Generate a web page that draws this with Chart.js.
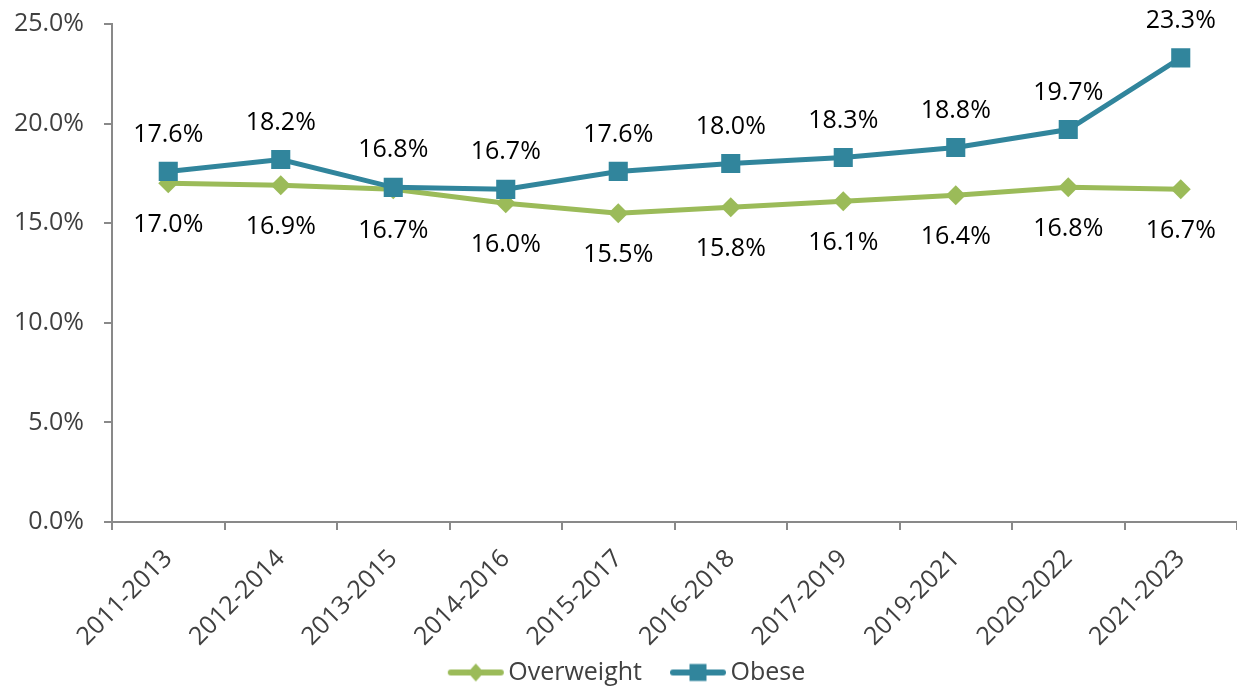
<!DOCTYPE html>
<html>
<head>
<meta charset="utf-8">
<script src="https://cdn.jsdelivr.net/npm/chart.js@4"></script>
<style>
  body { margin: 0; background: #fff; }
  #wrap { width: 1237px; height: 687px; position: relative; }
</style>
</head>
<body>
<div id="wrap"><canvas id="bmiChart"></canvas></div>
<script>
const PERIODS = ['2011-2013', '2012-2014', '2013-2015', '2014-2016', '2015-2017',
    '2016-2018', '2017-2019', '2019-2021', '2020-2022', '2021-2023']
const OVERWEIGHT = [17.0, 16.9, 16.7, 16.0, 15.5, 15.8, 16.1, 16.4, 16.8, 16.7]
const OBESE = [17.6, 18.2, 16.8, 16.7, 17.6, 18.0, 18.3, 18.8, 19.7, 23.3]
const Y_TICKS = [0, 5, 10, 15, 20, 25]

const GREEN = '#9BBB59'
const TEAL = '#31859C'
const AXIS = '#898989'
const TEXT = '#404040'
const FONT = "'Open Sans', 'Noto Sans', sans-serif"
const SIZE = 25

// line + marker swatch for the legend, drawn off-centre so it sits close to the text
function legendIcon(color, shape) {
    const c = document.createElement('canvas')
    c.width = 70
    c.height = 20
    const ctx = c.getContext('2d')
    ctx.strokeStyle = color
    ctx.lineWidth = 6
    ctx.lineCap = 'round'
    ctx.beginPath()
    ctx.moveTo(10, 10)
    ctx.lineTo(60, 10)
    ctx.stroke()
    ctx.fillStyle = color
    ctx.beginPath()
    if (shape === 'diamond') {
        ctx.moveTo(35, 1); ctx.lineTo(43, 10); ctx.lineTo(35, 19); ctx.lineTo(27, 10)
        ctx.closePath()
    } else {
        ctx.rect(26.5, 1.5, 17, 17)
    }
    ctx.fill()
    return c
}

const ICONS = [legendIcon(GREEN, 'diamond'), legendIcon(TEAL, 'square')]
const LABEL_OFFSETS = [42, -37]

const pointLabels = {
    id: 'pointLabels',
    afterLayout(chart) {
        // let the rotated tick labels run into the legend band instead of being clipped
        chart.scales.x.bottom = chart.height
        // nudge the legend row a little right, like the original
        chart.legend.left += 24
    },
    afterDatasetsDraw(chart) {
        const ctx = chart.ctx
        ctx.save()
        ctx.font = SIZE + 'px ' + FONT
        ctx.fillStyle = '#000'
        ctx.textAlign = 'center'
        ctx.textBaseline = 'middle'
        chart.data.datasets.forEach((ds, i) => {
            const meta = chart.getDatasetMeta(i)
            meta.data.forEach((pt, j) => {
                ctx.fillText(ds.data[j].toFixed(1) + '%', pt.x, pt.y + LABEL_OFFSETS[i])
            })
        })
        ctx.restore()
    }
}

const bmiChart = new Chart(document.getElementById('bmiChart'), {
    type: 'line',
    data: {
        labels: PERIODS,
        datasets: [
            {
                label: 'Overweight',
                data: OVERWEIGHT,
                borderColor: GREEN,
                backgroundColor: GREEN,
                borderWidth: 5,
                pointStyle: 'rectRot',
                pointRadius: 10,
                pointHoverRadius: 10,
                pointBorderWidth: 0,
                order: 1,
                tension: 0
            },
            {
                label: 'Obese',
                data: OBESE,
                borderColor: TEAL,
                backgroundColor: TEAL,
                borderWidth: 5,
                pointStyle: 'rect',
                pointRadius: 13.5,
                pointHoverRadius: 13.5,
                pointBorderWidth: 0,
                order: 0,
                tension: 0
            }
        ]
    },
    options: {
        responsive: true,
        maintainAspectRatio: false,
        animation: false,
        layout: { autoPadding: false, padding: { top: 24, right: 0, left: 0, bottom: -8 } },
        scales: {
            x: {
                offset: true,
                afterFit: scale => {
                    scale.height = 102
                    scale.paddingLeft = 0
                    scale.paddingRight = 0
                },
                grid: { offset: true, drawOnChartArea: false, color: AXIS, lineWidth: 2, tickLength: 8 },
                border: { color: AXIS, width: 2 },
                ticks: {
                    color: TEXT,
                    font: { family: FONT, size: SIZE },
                    minRotation: 45,
                    maxRotation: 45,
                    padding: 14,
                    autoSkip: false
                }
            },
            y: {
                min: 0,
                max: 25,
                afterFit: scale => {
                    scale.width = 112
                    scale.paddingTop = 0
                    scale.paddingBottom = 0
                },
                afterBuildTicks: scale => { scale.ticks = Y_TICKS.map(v => ({ value: v })) },
                grid: { drawOnChartArea: false, color: AXIS, lineWidth: 2, tickLength: 8 },
                border: { color: AXIS, width: 2 },
                ticks: {
                    color: TEXT,
                    font: { family: FONT, size: SIZE },
                    padding: 20,
                    callback: v => v.toFixed(1) + '%'
                }
            }
        },
        plugins: {
            tooltip: { enabled: false },
            legend: {
                position: 'bottom',
                labels: {
                    color: TEXT,
                    font: { family: FONT, size: SIZE },
                    usePointStyle: true,
                    pointStyleWidth: 40,
                    padding: 36,
                    generateLabels: function (chart) {
                        return Chart.defaults.plugins.legend.labels.generateLabels(chart)
                            .sort((a, b) => a.datasetIndex - b.datasetIndex)
                            .map(item => Object.assign(item, { pointStyle: ICONS[item.datasetIndex] }))
                    }
                }
            }
        }
    },
    plugins: [pointLabels]
});
</script>
</body>
</html>
